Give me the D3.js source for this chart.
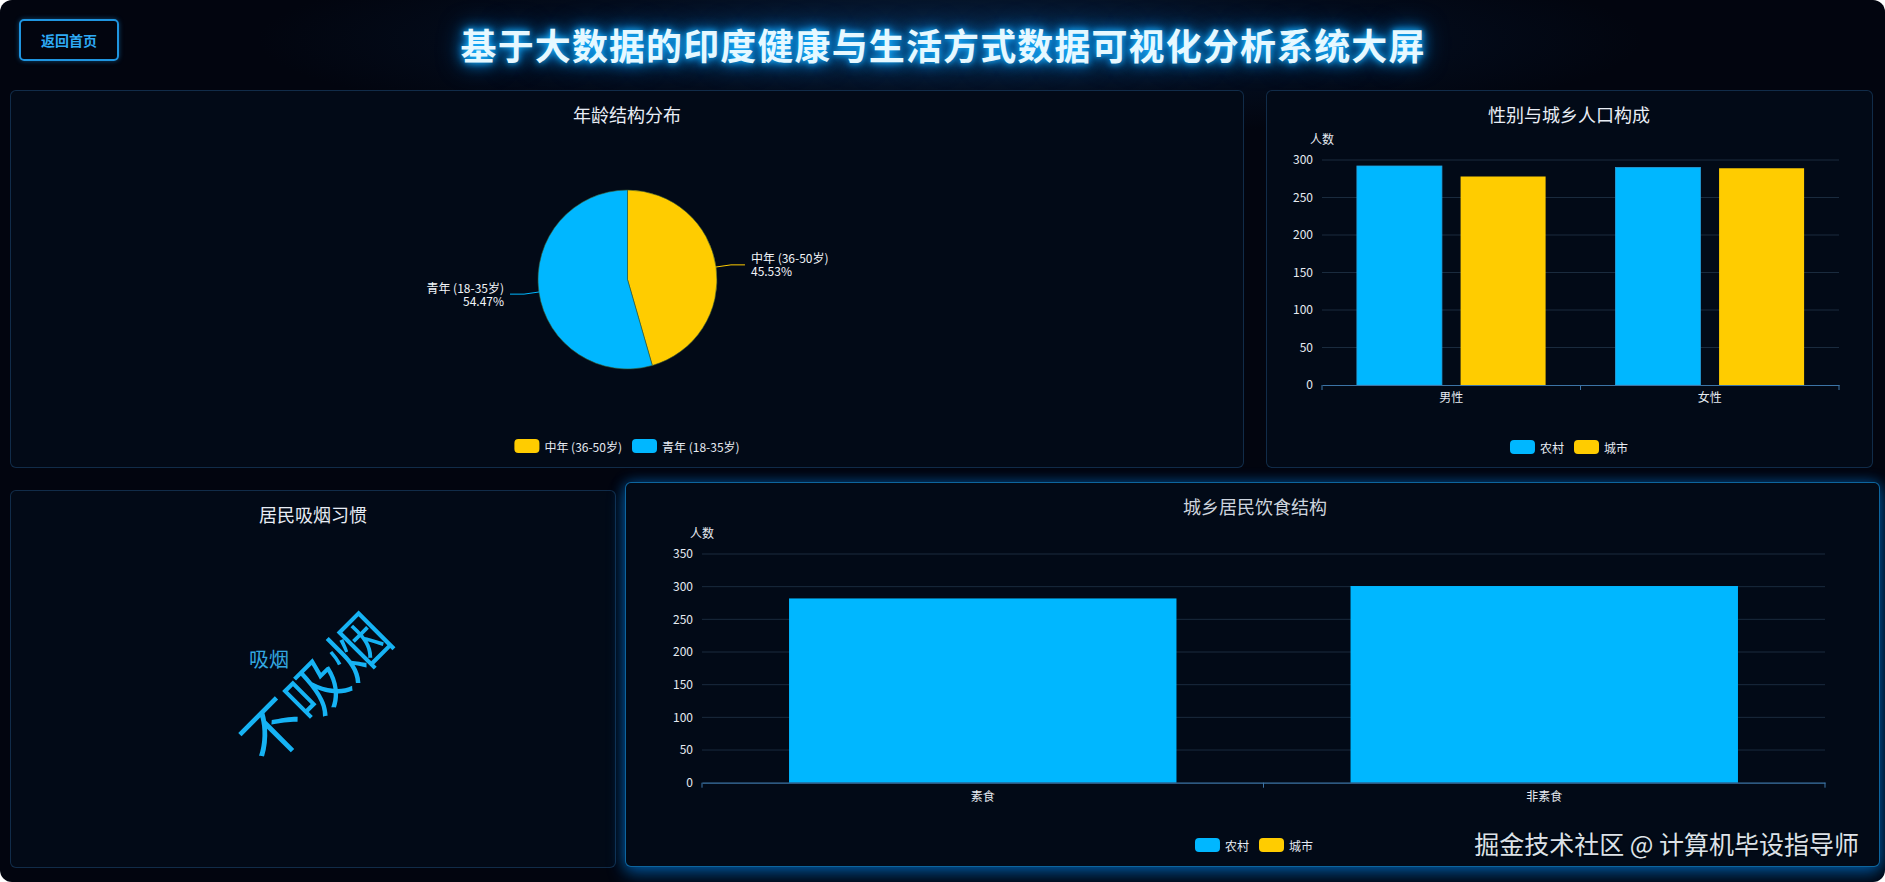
<!DOCTYPE html>
<html><head><meta charset="utf-8">
<script src="https://cdn.jsdelivr.net/npm/d3@7"></script>
<style>
html,body{margin:0;padding:0;width:1885px;height:882px;overflow:hidden;background:#ffffff;}
#page{position:absolute;left:0;top:0;width:1885px;height:882px;border-radius:12px;overflow:hidden;background:#02050f;font-family:"Noto Sans CJK SC","Microsoft YaHei",sans-serif;}
#hglow{position:absolute;left:250px;top:-60px;width:1400px;height:200px;background:radial-gradient(ellipse at center, rgba(14,62,112,0.55) 0%, rgba(6,32,64,0.28) 42%, rgba(0,0,0,0) 70%);}
.panel{position:absolute;box-sizing:border-box;border:1px solid rgba(45,110,165,0.35);border-radius:6px;background:#020a17;}
#p4{border:1px solid rgba(20,150,230,0.65);box-shadow:0 0 14px rgba(0,140,255,0.45),0 8px 18px rgba(0,120,210,0.45);}
#btn{position:absolute;left:19px;top:19px;width:100px;height:42px;box-sizing:border-box;border:2px solid #1f95e0;border-radius:5px;color:#2eaaf5;font-weight:bold;font-size:14px;display:flex;align-items:center;justify-content:center;box-shadow:0 0 5px rgba(30,150,230,0.45);}
#title{position:absolute;left:0;width:1885px;top:18px;line-height:52px;text-align:center;}
#titleText{font-size:36px;font-weight:bold;color:#e6f8ff;white-space:nowrap;text-shadow:0 0 6px #19b4ff,0 0 14px #0a9cff,0 0 26px rgba(0,140,255,0.7);}
svg{position:absolute;left:0;top:0;}
</style></head>
<body>
<div id="page">
  <div id="hglow"></div>
  <div id="btn">返回首页</div>
  <div id="title"><span id="titleText">基于大数据的印度健康与生活方式数据可视化分析系统大屏</span></div>
  <div class="panel" style="left:10px;top:90px;width:1234px;height:378px;"></div>
  <div class="panel" style="left:1266px;top:90px;width:607px;height:378px;"></div>
  <div class="panel" style="left:10px;top:490px;width:606px;height:378px;"></div>
  <div class="panel" id="p4" style="left:625px;top:482px;width:1255px;height:385px;"></div>
  <svg id="chart" width="1885" height="882"></svg>
</div>
<script>
// ---------- DATA ----------
const ageLabels = ["中年 (36-50岁)", "青年 (18-35岁)"];
const ageValues = [45.53, 54.47];

const genderCategories = ["男性", "女性"];
const seriesNames = ["农村", "城市"];
const genderRural = [292, 290];
const genderUrban = [278, 289];
const genderTicks = [0, 50, 100, 150, 200, 250, 300];

const dietCategories = ["素食", "非素食"];
const dietRural = [282, 301];
const dietUrban = [0, 0];
const dietTicks = [0, 50, 100, 150, 200, 250, 300, 350];

const smokeWords = ["不吸烟", "吸烟"];
const smokeValues = [620, 529];

const panelTitles = ["年龄结构分布", "性别与城乡人口构成", "居民吸烟习惯", "城乡居民饮食结构"];

// ---------- title fit ----------
(function () {
  const el = document.getElementById("titleText");
  const n = el.textContent.length;
  const natural = el.getBoundingClientRect().width;
  const target = 965;
  const sp = (target - natural) / n;
  el.style.letterSpacing = sp + "px";
  el.style.marginRight = (-sp) + "px";
})();

// ---------- STYLE ----------
const BLUE = "#00b7ff", YELLOW = "#ffcc00";
const seriesColor = d3.scaleOrdinal().domain(seriesNames).range([BLUE, YELLOW]);
const ageColor = d3.scaleOrdinal().domain(ageLabels).range([YELLOW, BLUE]);
const TXT = "#e6ebf2", GRID = "#1a2b3e", AXIS = "#3c74a6";
const FONT = '"Noto Sans CJK SC","Microsoft YaHei",sans-serif';

const svg = d3.select("#chart").style("font-family", FONT);

// panel titles
const titlePos = [[627, 114], [1569, 114], [313, 514], [1255, 506]];
panelTitles.forEach((t, i) => {
  svg.append("text").attr("x", titlePos[i][0]).attr("y", titlePos[i][1])
    .attr("text-anchor", "middle").attr("dominant-baseline", "central")
    .attr("font-size", 18).attr("fill", i === 3 ? "#cdd4de" : "#e8edf5").text(t);
});

function legend(cx, cy, names, colorFn) {
  const g = svg.append("g");
  let x = 0;
  const items = [];
  names.forEach(n => {
    const it = g.append("g");
    it.append("rect").attr("x", 0).attr("y", -7).attr("width", 25).attr("height", 14).attr("rx", 4).attr("fill", colorFn(n));
    const t = it.append("text").attr("x", 30).attr("y", 0).attr("dominant-baseline", "central")
      .attr("font-size", 12).attr("fill", TXT).text(n);
    const w = 30 + t.node().getComputedTextLength();
    items.push([it, x]);
    x += w + 10;
  });
  const total = x - 10;
  items.forEach(([it, ox]) => it.attr("transform", `translate(${ox},0)`));
  g.attr("transform", `translate(${cx - total / 2},${cy})`);
}

// ---------- PIE ----------
(function () {
  const cx = 627.5, cy = 279.5, r = 89.5;
  const data = ageLabels.map((l, i) => ({ label: l, value: ageValues[i] }));
  const pie = d3.pie().value(d => d.value).sort(null);
  const arc = d3.arc().innerRadius(0).outerRadius(r);
  const arcs = pie(data);
  const g = svg.append("g").attr("transform", `translate(${cx},${cy})`);
  g.selectAll("path").data(arcs).join("path").attr("d", arc)
    .attr("fill", d => ageColor(d.data.label)).attr("stroke", "#3a5a30").attr("stroke-width", 0.6);
  const total = d3.sum(ageValues);
  arcs.forEach(d => {
    const a = (d.startAngle + d.endAngle) / 2;
    const sx = Math.sin(a), sy = -Math.cos(a);
    const p1 = [r * sx, r * sy], p2 = [(r + 15) * sx, (r + 15) * sy];
    const right = sx >= 0;
    const p3 = [p2[0] + (right ? 14 : -14), p2[1]];
    g.append("polyline").attr("points", [p1, p2, p3].map(p => p.join(",")).join(" "))
      .attr("fill", "none").attr("stroke", ageColor(d.data.label)).attr("stroke-width", 1);
    const tx = p3[0] + (right ? 6 : -6);
    const anchor = right ? "start" : "end";
    g.append("text").attr("x", tx).attr("y", p3[1] - 7).attr("dominant-baseline", "central")
      .attr("text-anchor", anchor).attr("font-size", 12).attr("fill", "#f2f5f9").text(d.data.label);
    g.append("text").attr("x", tx).attr("y", p3[1] + 6).attr("dominant-baseline", "central")
      .attr("text-anchor", anchor).attr("font-size", 12).attr("fill", "#f2f5f9")
      .text((d.data.value / total * 100).toFixed(2) + "%");
  });
  legend(627, 446, ageLabels, ageColor);
})();

// ---------- BAR helper ----------
function barChart(opts) {
  const { cats, rows, ticks, x0, x1, y0, y1, stacked, widthFrac, labelPad, lgX, lgY } = opts;
  const x = d3.scaleBand().domain(cats).range([x0, x1]);
  const y = d3.scaleLinear().domain([ticks[0], ticks[ticks.length - 1]]).range([y0, y1]);
  svg.append("g").selectAll("line").data(ticks.filter(t => t > 0)).join("line")
    .attr("x1", x0).attr("x2", x1).attr("y1", d => y(d)).attr("y2", d => y(d))
    .attr("stroke", GRID).attr("stroke-width", 1);
  const ya = svg.append("g").attr("transform", `translate(${x0},0)`)
    .call(d3.axisLeft(y).tickValues(ticks).tickSize(0).tickPadding(9));
  ya.select(".domain").remove();
  ya.selectAll("text").attr("fill", TXT).attr("font-size", 12).attr("font-family", FONT);
  svg.append("text").attr("x", x0).attr("y", y1 - 22).attr("text-anchor", "middle")
    .attr("dominant-baseline", "central").attr("font-size", 12).attr("fill", TXT).text("人数");
  const keys = seriesNames;
  const data = cats.map((c, i) => ({ cat: c, 农村: rows[0][i], 城市: rows[1][i] }));
  if (stacked) {
    const st = d3.stack().keys(keys)(data);
    const bw = x.bandwidth() * widthFrac;
    st.forEach(layer => {
      svg.append("g").selectAll("rect").data(layer).join("rect")
        .attr("x", d => x(d.data.cat) + (x.bandwidth() - bw) / 2).attr("width", bw)
        .attr("y", d => y(d[1])).attr("height", d => y(d[0]) - y(d[1]))
        .attr("fill", seriesColor(layer.key));
    });
  } else {
    const xs = d3.scaleBand().domain(keys)
      .range([x.bandwidth() * (1 - widthFrac) / 2, x.bandwidth() * (1 + widthFrac) / 2]).paddingInner(0.18);
    keys.forEach((k, ki) => {
      svg.append("g").selectAll("rect").data(data).join("rect")
        .attr("x", d => x(d.cat) + xs(k)).attr("width", xs.bandwidth())
        .attr("y", d => y(d[k])).attr("height", d => y0 - y(d[k]))
        .attr("fill", seriesColor(k))
        .attr("stroke", ki === 0 ? "#27a0dc" : "none").attr("stroke-width", 0.8);
    });
  }
  const xa = svg.append("g").attr("transform", `translate(0,${y0})`)
    .call(d3.axisBottom(x).tickSize(0).tickPadding(labelPad));
  xa.select(".domain").attr("stroke", AXIS).attr("stroke-width", 1.2);
  xa.selectAll("text").attr("fill", TXT).attr("font-size", 12).attr("font-family", FONT);
  const bounds = cats.map(c => x(c)).concat([x1]);
  svg.append("g").selectAll("line").data(bounds).join("line")
    .attr("x1", d => d).attr("x2", d => d).attr("y1", y0).attr("y2", y0 + 5)
    .attr("stroke", AXIS).attr("stroke-width", 1);
  legend(lgX, lgY, seriesNames, seriesColor);
}

barChart({ cats: genderCategories, rows: [genderRural, genderUrban], ticks: genderTicks,
  x0: 1322, x1: 1839, y0: 385, y1: 160, stacked: false, widthFrac: 0.73, labelPad: 8, lgX: 1569, lgY: 447 });

barChart({ cats: dietCategories, rows: [dietRural, dietUrban], ticks: dietTicks,
  x0: 702, x1: 1825, y0: 782.7, y1: 554, stacked: true, widthFrac: 0.69, labelPad: 10, lgX: 1254, lgY: 845 });

// ---------- WORD CLOUD ----------
(function () {
  const size = d3.scaleLinear().domain(d3.extent(smokeValues)).range([20, 60]);
  const place = { "不吸烟": { x: 313, y: 686, rot: -45, color: "#16b3f4" },
                  "吸烟": { x: 269, y: 658, rot: 0, color: "#33a7e0" } };
  smokeWords.forEach((w, i) => {
    const p = place[w];
    svg.append("text").attr("transform", `translate(${p.x},${p.y}) rotate(${p.rot})`)
      .attr("text-anchor", "middle").attr("dominant-baseline", "central")
      .attr("font-size", size(smokeValues[i])).attr("fill", p.color).text(w);
  });
})();

// watermark
svg.append("text").attr("x", 1859).attr("y", 843).attr("text-anchor", "end")
  .attr("dominant-baseline", "central").attr("font-size", 25).attr("fill", "#dde2e8")
  .style("text-shadow", "0 0 2px rgba(0,0,0,0.6)").text("掘金技术社区 @ 计算机毕设指导师");
</script>
</body></html>
